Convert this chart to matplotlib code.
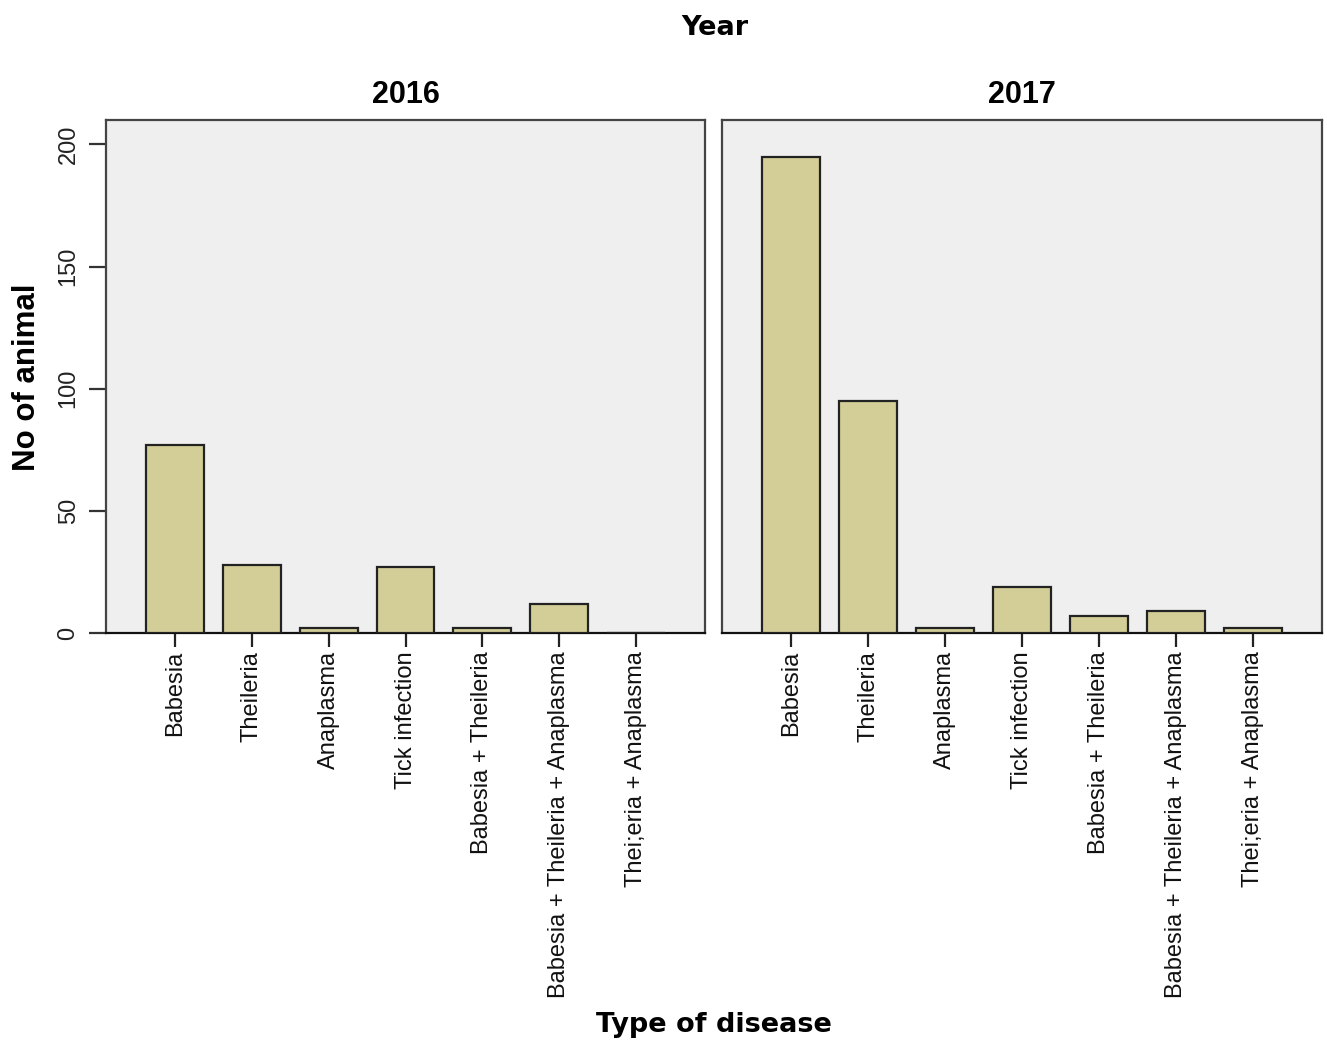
import matplotlib
matplotlib.use("Agg")
import matplotlib.pyplot as plt
import numpy as np

plt.rcParams['font.family'] = ['Liberation Sans', 'DejaVu Sans']

# -------- DATA --------
diseases = ["Babesia", "Theileria", "Anaplasma", "Tick infection",
            "Babesia + Theileria", "Babesia + Theileria + Anaplasma",
            "Thei;eria + Anaplasma"]
years = ["2016", "2017"]
counts_2016 = [77, 28, 2, 27, 2, 12, 0]
counts_2017 = [195, 95, 2, 19, 7, 9, 2]
yticks = [0, 50, 100, 150, 200]

bar_color = "#d3ce98"
panel_bg = "#efefef"

# -------- FIGURE --------
fig = plt.figure(figsize=(13.27, 10.43), dpi=100)
W, H = 1327, 1043
top, bottom = 120, 633
panels = [(106, 705), (722, 1322)]

x = np.arange(len(diseases))
for i, (vals, yr) in enumerate(zip([counts_2016, counts_2017], years)):
    l, r = panels[i]
    ax = fig.add_axes([l / W, 1 - bottom / H, (r - l) / W, (bottom - top) / H])
    ax.set_facecolor(panel_bg)
    ax.bar(x, vals, width=0.75, color=bar_color, edgecolor="#222222",
           linewidth=1.6, zorder=3)
    ax.set_xlim(-0.9, len(diseases) - 0.1)
    ax.set_ylim(0, 210)
    for s in ax.spines.values():
        s.set_color("#444444")
        s.set_linewidth(1.6)
    ax.spines['bottom'].set_color("#111111")
    ax.set_xticks(x)
    ax.set_xticklabels(diseases, rotation=90, fontsize=17, color="#111111")
    ax.tick_params(axis='x', length=10, width=1.6, pad=3, color="#222222")
    if i == 0:
        ax.set_yticks(yticks)
        ax.set_yticklabels([str(t) for t in yticks], rotation=90,
                           va='center', fontsize=17, color="#222222")
        ax.tick_params(axis='y', length=12, width=1.6, pad=7, color="#333333")
    else:
        ax.set_yticks([])
    ax.set_title(yr, fontsize=22, fontweight='bold', pad=12)

fig.text(715 / W, 1 - 28 / H, "Year", ha='center', va='center',
         fontsize=19.5, fontweight='bold', family='DejaVu Sans')
fig.text(714 / W, 1 - 1025 / H, "Type of disease", ha='center', va='center',
         fontsize=19.5, fontweight='bold', family='DejaVu Sans')
fig.text(27 / W, 1 - 377 / H, "No of animal", ha='center', va='center',
         rotation=90, fontsize=22.5, fontweight='bold')

fig.savefig("out.png", dpi=100)
